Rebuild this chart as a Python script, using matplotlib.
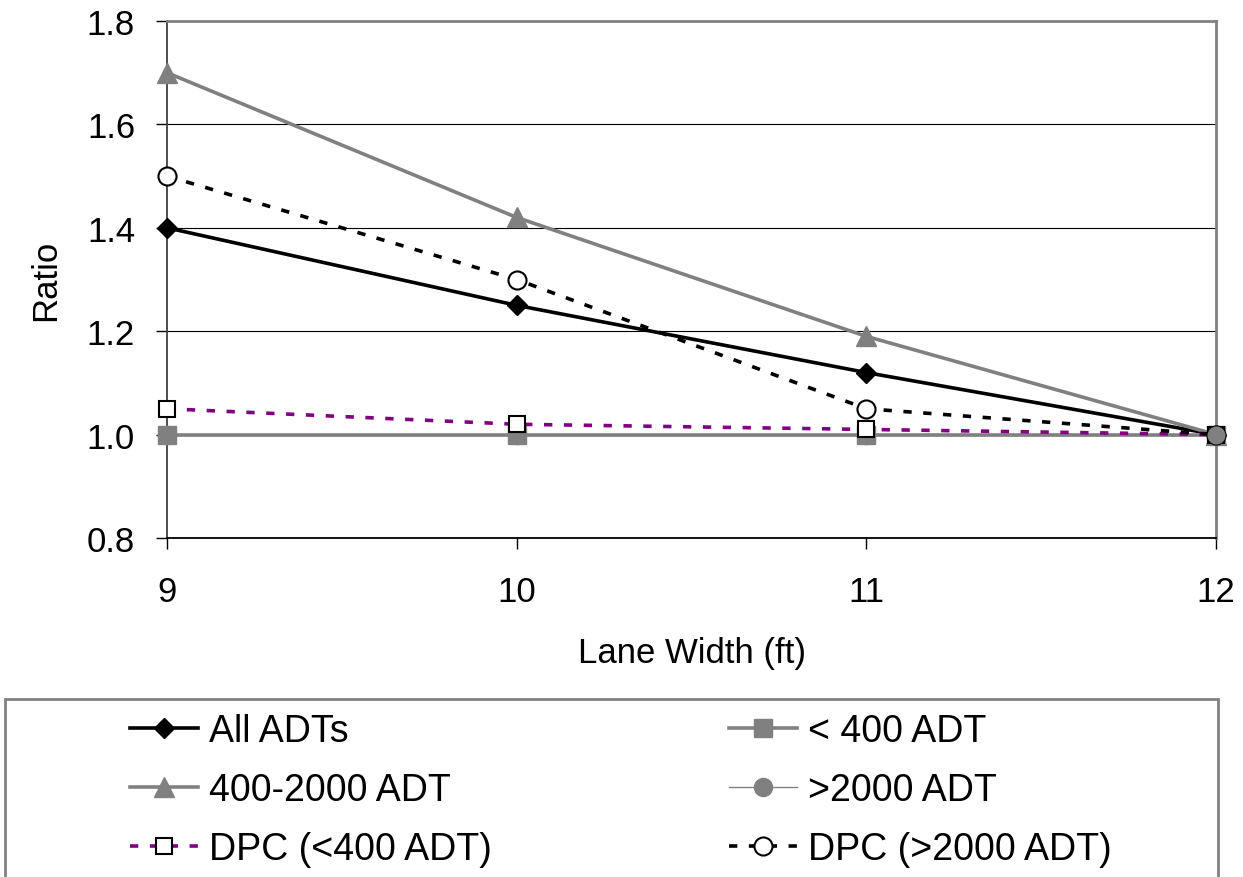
import matplotlib
matplotlib.use("Agg")
import matplotlib.pyplot as plt
from matplotlib.patches import Rectangle

plt.rcParams['font.family'] = ['Liberation Sans', 'DejaVu Sans']

lane_width = [9, 10, 11, 12]
all_adts = [1.40, 1.25, 1.12, 1.00]
under_400 = [1.00, 1.00, 1.00, 1.00]
adt_400_2000 = [1.70, 1.42, 1.19, 1.00]
over_2000 = [1.00, 1.00, 1.00, 1.00]
dpc_under_400 = [1.05, 1.02, 1.01, 1.00]
dpc_over_2000 = [1.50, 1.30, 1.05, 1.00]

W, H = 1243, 878
fig = plt.figure(figsize=(W / 100, H / 100), dpi=100)
ax = fig.add_axes([167 / W, 1 - 539 / H, (1216 - 167) / W, (539 - 22) / H])

# gridlines
for y in [1.0, 1.2, 1.4, 1.6]:
    ax.axhline(y, color='black', lw=0.8, zorder=1)

dash = (0, (2.3, 3.2))
l1, = ax.plot(lane_width, all_adts, color='black', lw=2.6, marker='D', ms=10,
              label='All ADTs', zorder=3, clip_on=False)
l2, = ax.plot(lane_width, under_400, color='#808080', lw=2.6, marker='s', ms=13,
              label='< 400 ADT', zorder=3, clip_on=False)
l3, = ax.plot(lane_width, adt_400_2000, color='#808080', lw=2.6, marker='^', ms=15,
              label='400-2000 ADT', zorder=3, clip_on=False)
l4, = ax.plot(lane_width, over_2000, color='#808080', lw=1.0, marker='o', ms=13,
              label='>2000 ADT', zorder=3, clip_on=False)
l5, = ax.plot(lane_width, dpc_under_400, color='#800080', lw=2.6, ls=dash,
              marker='s', ms=12, mfc='white', mec='black', mew=1.5,
              label='DPC (<400 ADT)', zorder=4, clip_on=False)
l6, = ax.plot(lane_width, dpc_over_2000, color='black', lw=2.6, ls=dash,
              marker='o', ms=13, mfc='white', mec='black', mew=1.5,
              label='DPC (>2000 ADT)', zorder=4, clip_on=False)
# the gray circle at the last point sits on top
ax.plot([lane_width[-1]], [over_2000[-1]], color='#808080', marker='o', ms=12,
        ls='none', zorder=5, clip_on=False)

ax.set_xlim(9, 12)
ax.set_ylim(0.8, 1.8)
ax.set_xticks(lane_width)
ax.set_yticks([0.8, 1.0, 1.2, 1.4, 1.6, 1.8])
ax.set_yticklabels(['0.8', '1.0', '1.2', '1.4', '1.6', '1.8'])

ax.spines['top'].set_color('#808080')
ax.spines['right'].set_color('#808080')
ax.spines['top'].set_linewidth(2)
ax.spines['right'].set_linewidth(2)
ax.spines['left'].set_color('#404040')
ax.spines['left'].set_linewidth(1.3)
ax.spines['bottom'].set_color('black')
ax.spines['bottom'].set_linewidth(1.3)

ax.tick_params(axis='both', direction='out', length=8, width=1.0, labelsize=25, pad=15)
ax.tick_params(axis='x', pad=19)
ax.set_xlabel('Lane Width (ft)', fontsize=25, labelpad=20)
ax.set_ylabel('Ratio', fontsize=25, labelpad=18)

# legend box
fig.patches.append(Rectangle((5 / W, -0.05), (1218 - 5) / W, 0.05 + 1 - 700 / H,
                             transform=fig.transFigure, fill=False,
                             edgecolor='#808080', lw=2))

leg_kw = dict(fontsize=27, loc='upper left', frameon=False, borderpad=0,
              borderaxespad=0, handlelength=1.8, handletextpad=0.3, labelspacing=0.62)
leg1 = fig.legend(handles=[l1, l3, l5], bbox_to_anchor=(130 / W, 1 - 714 / H), **leg_kw)
leg2 = fig.legend(handles=[l2, l4, l6], bbox_to_anchor=(729 / W, 1 - 714 / H), **leg_kw)

fig.savefig('out.png', dpi=100)
